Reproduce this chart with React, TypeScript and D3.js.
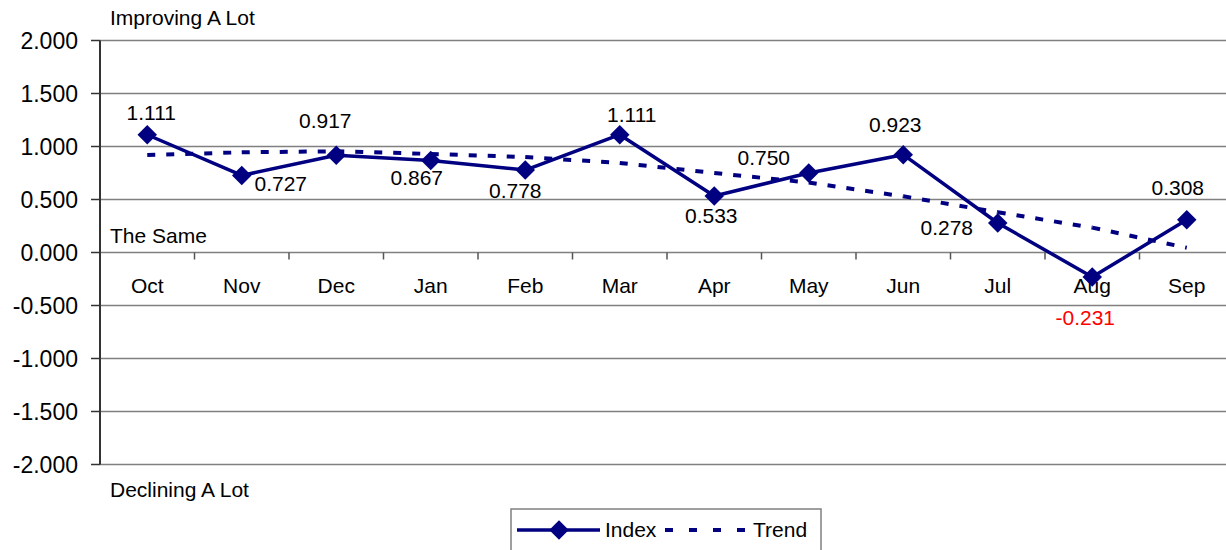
import { useRef, useEffect } from 'react';
import * as d3 from 'd3';

const months = ['Oct', 'Nov', 'Dec', 'Jan', 'Feb', 'Mar', 'Apr', 'May', 'Jun', 'Jul', 'Aug', 'Sep'];
const indexValues = [1.111, 0.727, 0.917, 0.867, 0.778, 1.111, 0.533, 0.75, 0.923, 0.278, -0.231, 0.308];
const trendValues = [0.92, 0.945, 0.955, 0.93, 0.9, 0.845, 0.75, 0.66, 0.53, 0.38, 0.235, 0.045];
const yTicks = [2, 1.5, 1, 0.5, 0, -0.5, -1, -1.5, -2];

// hand placed label offsets, relative to the point
const labelOffsets = [
  [4, -15], [39, 16], [-11, -27], [-14, 24], [-10, 28], [12, -13],
  [-3, 27], [-45, -8], [-8, -23], [-51, 12], [-7, 48], [-9, -25],
];

const NAVY = '#000080';
const FONT = '"Liberation Sans", Arial, sans-serif';
const fmt = (v: number) => v.toFixed(3); // plain hyphen for negatives

export default function App() {
  const ref = useRef<SVGSVGElement>(null);

  useEffect(() => {
    if (!ref.current) return;
    const width = 1226;
    const height = 550;

    const svg = d3.select(ref.current);
    svg.selectAll('*').remove();
    svg.attr('width', width).attr('height', height);

    const x = d3.scaleBand().domain(months).range([100, 1234]);
    const cx = (m: string) => (x(m) as number) + x.bandwidth() / 2;
    const y = d3.scaleLinear().domain([-2, 2]).range([464.5, 40.5]);

    // gridlines
    svg.append('g')
      .selectAll('line')
      .data(yTicks)
      .enter()
      .append('line')
      .attr('x1', 100)
      .attr('x2', width)
      .attr('y1', (d) => y(d))
      .attr('y2', (d) => y(d))
      .attr('stroke', '#808080')
      .attr('stroke-width', 1.5);

    // y axis
    const yAxis = svg.append('g');
    yAxis.append('line')
      .attr('x1', 100).attr('x2', 100)
      .attr('y1', y(2)).attr('y2', y(-2))
      .attr('stroke', '#333')
      .attr('stroke-width', 2);
    yAxis.selectAll('.tick')
      .data(yTicks)
      .enter()
      .append('line')
      .attr('x1', 91).attr('x2', 100)
      .attr('y1', (d) => y(d)).attr('y2', (d) => y(d))
      .attr('stroke', '#333')
      .attr('stroke-width', 1.5);
    yAxis.selectAll('text')
      .data(yTicks)
      .enter()
      .append('text')
      .attr('x', 78)
      .attr('y', (d) => y(d) + 8)
      .attr('text-anchor', 'end')
      .style('font-family', FONT)
      .style('font-size', '23px')
      .style('fill', '#000')
      .text((d) => fmt(d));

    // x ticks at band edges, on the zero line
    const edges = months.map((m) => x(m) as number).slice(1).concat([x.range()[1]]);
    svg.append('g')
      .selectAll('line')
      .data(edges)
      .enter()
      .append('line')
      .attr('x1', (d) => d).attr('x2', (d) => d)
      .attr('y1', y(0)).attr('y2', y(0) + 7)
      .attr('stroke', '#555')
      .attr('stroke-width', 1.5);

    svg.append('g')
      .selectAll('text')
      .data(months)
      .enter()
      .append('text')
      .attr('x', (d) => cx(d))
      .attr('y', y(0) + 40)
      .attr('text-anchor', 'middle')
      .style('font-family', FONT)
      .style('font-size', '21px')
      .text((d) => d);

    // side notes
    const notes: [string, number][] = [['Improving A Lot', 25], ['The Same', 243], ['Declining A Lot', 497]];
    svg.append('g')
      .selectAll('text')
      .data(notes)
      .enter()
      .append('text')
      .attr('x', 110)
      .attr('y', (d) => d[1])
      .style('font-family', FONT)
      .style('font-size', '21px')
      .text((d) => d[0]);

    // trend, drawn segment by segment so the dash restarts at each month
    const trendG = svg.append('g');
    for (let i = 0; i < months.length - 1; i++) {
      trendG.append('line')
        .attr('x1', cx(months[i])).attr('y1', y(trendValues[i]))
        .attr('x2', cx(months[i + 1])).attr('y2', y(trendValues[i + 1]))
        .attr('stroke', NAVY)
        .attr('stroke-width', 4)
        .attr('stroke-dasharray', '8,11');
    }

    // index line
    const line = d3.line<number>()
      .x((d, i) => cx(months[i]))
      .y((d) => y(d));
    svg.append('path')
      .datum(indexValues)
      .attr('d', line)
      .attr('fill', 'none')
      .attr('stroke', NAVY)
      .attr('stroke-width', 3.5)
      .attr('stroke-linejoin', 'round');

    const diamond = d3.symbol().type(d3.symbolSquare).size(190);
    svg.append('g')
      .selectAll('path')
      .data(indexValues)
      .enter()
      .append('path')
      .attr('d', diamond)
      .attr('transform', (d, i) => `translate(${cx(months[i])},${y(d)}) rotate(45)`)
      .attr('fill', NAVY);

    svg.append('g')
      .selectAll('text')
      .data(indexValues)
      .enter()
      .append('text')
      .attr('x', (d, i) => cx(months[i]) + labelOffsets[i][0])
      .attr('y', (d, i) => y(d) + labelOffsets[i][1])
      .attr('text-anchor', 'middle')
      .style('font-family', FONT)
      .style('font-size', '21px')
      .style('fill', (d) => (d < 0 ? '#ff0000' : '#000'))
      .text((d) => fmt(d));

    // legend
    const lg = svg.append('g');
    lg.append('rect')
      .attr('x', 511).attr('y', 509)
      .attr('width', 310).attr('height', 60)
      .attr('fill', 'white')
      .attr('stroke', '#808080')
      .attr('stroke-width', 1.5);
    lg.append('line')
      .attr('x1', 517).attr('x2', 600)
      .attr('y1', 530).attr('y2', 530)
      .attr('stroke', NAVY).attr('stroke-width', 3.5);
    lg.append('path')
      .attr('d', diamond)
      .attr('transform', 'translate(559,530) rotate(45)')
      .attr('fill', NAVY);
    lg.append('text')
      .attr('x', 605).attr('y', 537)
      .style('font-family', FONT).style('font-size', '21px')
      .text('Index');
    lg.append('line')
      .attr('x1', 665).attr('x2', 748)
      .attr('y1', 530).attr('y2', 530)
      .attr('stroke', NAVY).attr('stroke-width', 4)
      .attr('stroke-dasharray', '8,16');
    lg.append('text')
      .attr('x', 753).attr('y', 537)
      .style('font-family', FONT).style('font-size', '21px')
      .text('Trend');
  }, []);

  return <svg ref={ref} style={{ position: 'absolute', left: 0, top: 0, background: 'white' }} />;
}
